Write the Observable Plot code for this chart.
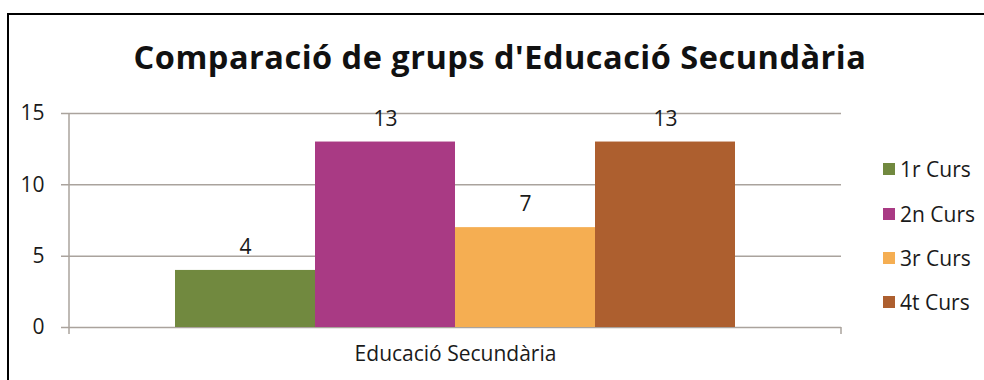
<!DOCTYPE html>
<html>
<head>
<meta charset="utf-8">
<script src="https://cdn.jsdelivr.net/npm/d3@7"></script>
<script src="https://cdn.jsdelivr.net/npm/@observablehq/plot@0.6"></script>
<style>
  html, body { margin: 0; padding: 0; background: #fff; overflow: hidden; }
  #page { position: relative; width: 984px; height: 380px; overflow: hidden; background: #fff; }
  #border { position: absolute; left: 7px; top: 13px; width: 1000px; height: 400px; border: 2px solid #000; box-sizing: border-box; }
  #title { position: absolute; left: 8px; width: 984px; top: 41px; line-height: 32px; text-align: center;
           font-family: "Open Sans", sans-serif; font-weight: 700; font-size: 32.5px; color: #111; white-space: nowrap; letter-spacing: 0.5px; }
  #chart { position: absolute; left: 0; top: 90px; }
  .legend-item { position: absolute; left: 883px; display: flex; align-items: center; height: 24px;
                 font-family: "Open Sans", sans-serif; font-size: 21px; line-height: 24px; color: #1a1a1a; white-space: nowrap; }
  .legend-item .sw { width: 12px; height: 12px; margin-right: 5px; }
</style>
</head>
<body>
<div id="page">
  <div id="border"></div>
  <div id="title"></div>
  <div id="chart"></div>
  <div id="legend"></div>
</div>
<script>
const titleText = "Comparació de grups d'Educació Secundària";
const category = ["Educació Secundària"];
const series = ["1r Curs", "2n Curs", "3r Curs", "4t Curs"];
const values = [4, 13, 7, 13];
const colors = ["#71893f", "#a93a84", "#f5ae52", "#ad5f2f"];
const yTicks = [0, 5, 10, 15];

const gridColor = "#aaa39d";
const data = series.map((s, i) => ({category: category[0], series: s, value: values[i]}));

document.getElementById("title").textContent = titleText;

function axisLines(index, scales, values, dim) {
  const g = d3.create("svg:g").attr("stroke", gridColor).attr("stroke-width", 1.5);
  const y0 = scales.y(0);
  const yTop = scales.y(d3.max(yTicks));
  const xl = dim.marginLeft, xr = dim.width - dim.marginRight;
  g.append("line").attr("x1", xl).attr("x2", xl).attr("y1", yTop).attr("y2", y0 + 7);
  g.append("line").attr("x1", xr).attr("x2", xr).attr("y1", y0).attr("y2", y0 + 7);
  return g.node();
}

const chart = Plot.plot({
  width: 984,
  height: 290,
  marginTop: 23,
  marginBottom: 53,
  marginLeft: 69,
  marginRight: 143,
  style: {fontFamily: "'Open Sans', sans-serif", fontSize: "21px", color: "#1a1a1a", background: "transparent", overflow: "visible"},
  x: {domain: series, paddingInner: 0, paddingOuter: 0.747, axis: null},
  y: {domain: [0, 15], axis: null},
  color: {domain: series, range: colors},
  marks: [
    Plot.ruleY(yTicks, {stroke: gridColor, strokeWidth: 1.5, insetLeft: -8}),
    Plot.axisY({ticks: yTicks, tickSize: 0, tickPadding: 25, tickFormat: d => String(d), label: null}),
    Plot.barY(data, {x: "series", y: "value", fill: "series"}),
    axisLines,
    Plot.text(data, {x: "series", y: "value", text: d => String(d.value), dy: -23, fill: "#1a1a1a"}),
    Plot.text(category, {frameAnchor: "bottom", text: d => d, dy: 33, fill: "#1a1a1a"})
  ]
});
document.getElementById("chart").appendChild(chart);

const legend = document.getElementById("legend");
series.forEach((s, i) => {
  const item = document.createElement("div");
  item.className = "legend-item";
  item.style.top = (170 + i * 44.3 - 12.6) + "px";
  const sw = document.createElement("span");
  sw.className = "sw";
  sw.style.background = colors[i];
  const label = document.createElement("span");
  label.textContent = s;
  item.appendChild(sw);
  item.appendChild(label);
  legend.appendChild(item);
});
</script>
</body>
</html>
